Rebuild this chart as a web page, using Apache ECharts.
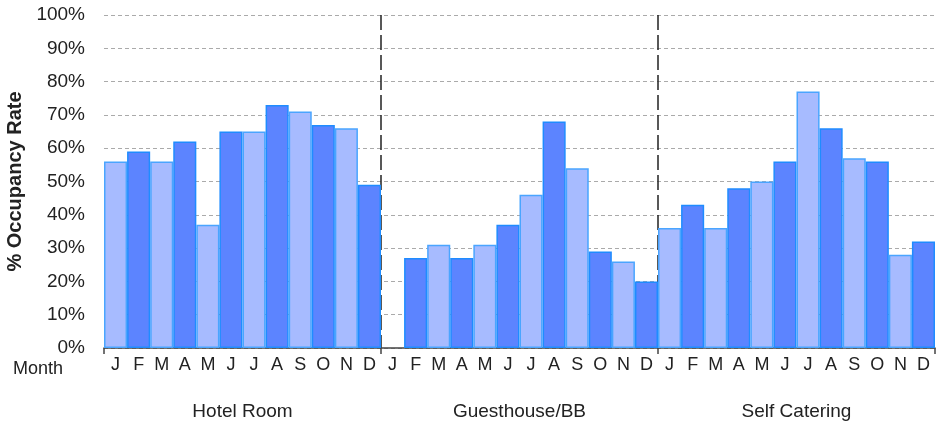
<!DOCTYPE html>
<html>
<head>
<meta charset="utf-8">
<script src="https://cdn.jsdelivr.net/npm/echarts@6/dist/echarts.min.js"></script>
<style>
  html, body { margin: 0; padding: 0; background: #fff; }
  #chart { width: 941px; height: 426px; }
</style>
</head>
<body>
<div id="chart"></div>
<script>
// Monthly occupancy rates by accommodation type
const groups = ['Hotel Room', 'Guesthouse/BB', 'Self Catering'];
const months = ['J', 'F', 'M', 'A', 'M', 'J', 'J', 'A', 'S', 'O', 'N', 'D'];
const hotelRoom = [56, 59, 56, 62, 37, 65, 65, 73, 71, 67, 66, 49];
const guesthouseBB = [null, 27, 31, 27, 31, 37, 46, 68, 54, 29, 26, 20];
const selfCatering = [36, 43, 36, 48, 50, 56, 77, 66, 57, 56, 28, 32];
const yTicks = [0, 10, 20, 30, 40, 50, 60, 70, 80, 90, 100];

const FONT = '"Liberation Sans", Arial, sans-serif';
const LIGHT = { color: '#a7bbff', borderColor: '#4aa5ff' };
const DARK = { color: '#5c84ff', borderColor: '#1f8cff' };

const categories = [];
const values = [];
[hotelRoom, guesthouseBB, selfCatering].forEach(function (series) {
  series.forEach(function (v, i) {
    categories.push(months[i]);
    const style = i % 2 ? DARK : LIGHT;
    values.push({
      value: v === null ? '-' : v,
      itemStyle: { color: style.color, borderColor: style.borderColor, borderWidth: 1.5 }
    });
  });
});

const chart = echarts.init(document.getElementById('chart'), null, { renderer: 'canvas' });
chart.setOption({
  animation: false,
  backgroundColor: '#fff',
  grid: { left: 104, right: 6, top: 15, bottom: 78, containLabel: false, outerBoundsMode: 'none' },
  xAxis: [
    {
      type: 'category',
      data: categories,
      position: 'bottom',
      axisLine: { show: true, lineStyle: { color: '#444', width: 1.5 } },
      axisTick: { show: false },
      axisLabel: { interval: 0, margin: 8, fontFamily: FONT, fontSize: 18, color: '#222' },
      splitLine: { show: false }
    },
    {
      // group axis: boundary ticks and dashed separators between groups
      type: 'category',
      data: groups,
      position: 'bottom',
      boundaryGap: true,
      axisLine: { show: false },
      axisTick: { show: true, length: 6, lineStyle: { color: '#444', width: 1.5 } },
      axisLabel: { interval: 0, margin: 54, fontFamily: FONT, fontSize: 19, color: '#222' },
      splitLine: {
        show: true,
        interval: 0,
        showMinLine: false,
        showMaxLine: false,
        lineStyle: { color: '#222', width: 1.5, type: [15, 5] }
      }
    }
  ],
  yAxis: {
    type: 'value',
    min: yTicks[0],
    max: yTicks[yTicks.length - 1],
    interval: 10,
    name: '% Occupancy Rate',
    nameLocation: 'middle',
    nameGap: 78,
    nameRotate: 90,
    nameTextStyle: { fontFamily: FONT, fontSize: 20, fontWeight: 'bold', color: '#222' },
    axisLine: { show: false },
    axisTick: { show: false },
    axisLabel: { margin: 19, fontFamily: FONT, fontSize: 19, color: '#222', formatter: '{value}%' },
    splitLine: { show: true, lineStyle: { color: '#aaa', width: 1, type: [4, 3] } }
  },
  graphic: [
    {
      type: 'text',
      left: 13,
      top: 360,
      style: { text: 'Month', font: '18px ' + FONT, fill: '#222' }
    }
  ],
  series: [
    {
      type: 'bar',
      xAxisIndex: 0,
      data: values,
      barCategoryGap: '0%',
      barGap: '0%'
    }
  ]
});
</script>
</body>
</html>
